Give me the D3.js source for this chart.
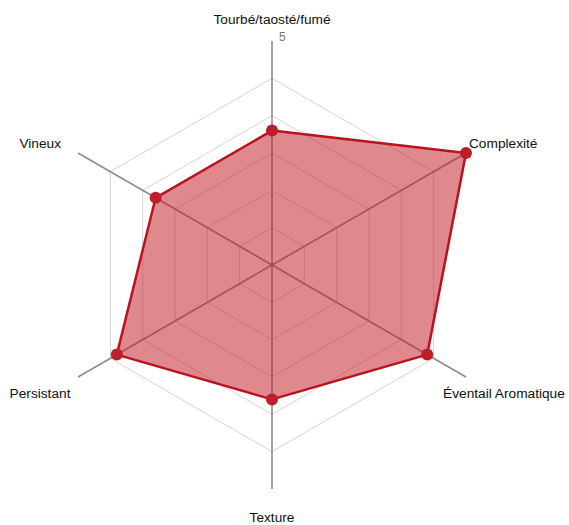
<!DOCTYPE html>
<html>
<head>
<meta charset="utf-8">
<script src="https://cdnjs.cloudflare.com/ajax/libs/d3/7.8.5/d3.min.js"></script>
<style>
  body { margin: 0; background: #fff; }
  text { font-family: "Liberation Sans", Arial, Helvetica, sans-serif; }
</style>
</head>
<body>
<svg width="569" height="525"></svg>
<script>
// flavour axes and scores
const axes = ['Tourbé/taosté/fumé', 'Complexité', 'Éventail Aromatique', 'Texture', 'Persistant', 'Vineux']
const scores = [3, 5, 4, 3, 4, 3]
const maxLabel = ['5']
const maxValue = 5
const levels = 5

const svg = d3.select('svg')
const cx = 272
const cy = 265
const radius = 224

const r = d3.scaleLinear()
  .domain([0, maxValue])
  .range([0, radius])

const angle = d3.scaleLinear()
  .domain([0, axes.length])
  .range([0, 2 * Math.PI])

const g = svg.append('g').attr('transform', 'translate(' + cx + ',' + cy + ')')

function px (i, rad) { return rad * Math.sin(angle(i)) }
function py (i, rad) { return -rad * Math.cos(angle(i)) }

// grid rings, drawn at 1/6 .. 5/6 of the axis length
for (let k = 1; k <= levels; k++) {
  const rad = radius * k / (levels + 1)
  const pts = axes.map((a, i) => [px(i, rad), py(i, rad)])
  g.append('path')
    .attr('d', d3.line()(pts) + 'Z')
    .attr('fill', 'none')
    .attr('stroke', '#d4d4d4')
    .attr('stroke-width', 1)
}

// axis lines
g.selectAll('.axis')
  .data(axes)
  .enter().append('line')
  .attr('class', 'axis')
  .attr('x1', 0)
  .attr('y1', 0)
  .attr('x2', (d, i) => px(i, r(maxValue)))
  .attr('y2', (d, i) => py(i, r(maxValue)))
  .attr('stroke', '#8c8c8c')
  .attr('stroke-width', 1.6)

// max label
g.append('text')
  .attr('x', 7)
  .attr('y', -r(maxValue))
  .attr('font-size', 12)
  .attr('fill', '#777')
  .text(maxLabel[0])

// axis labels, offsets per side
const labelPos = [
  { dx: 0, dy: -17, anchor: 'middle' },
  { dx: 3, dy: -5, anchor: 'start' },
  { dx: 38, dy: 21, anchor: 'middle' },
  { dx: 0, dy: 33, anchor: 'middle' },
  { dx: -38, dy: 21, anchor: 'middle' },
  { dx: -17, dy: -5, anchor: 'end' }
]

g.selectAll('.label')
  .data(axes)
  .enter().append('text')
  .attr('class', 'label')
  .attr('x', (d, i) => px(i, r(maxValue)) + labelPos[i].dx)
  .attr('y', (d, i) => py(i, r(maxValue)) + labelPos[i].dy)
  .attr('text-anchor', (d, i) => labelPos[i].anchor)
  .attr('font-size', 13.7)
  .attr('fill', '#111')
  .text(d => d)

// score polygon
const shape = scores.map((v, i) => [px(i, r(v)), py(i, r(v))])
g.append('path')
  .attr('d', d3.line()(shape) + 'Z')
  .attr('fill', '#c21a27')
  .attr('fill-opacity', 0.52)
  .attr('stroke', '#b8141e')
  .attr('stroke-width', 2.5)
  .attr('stroke-linejoin', 'round')

g.selectAll('.dot')
  .data(scores)
  .enter().append('circle')
  .attr('class', 'dot')
  .attr('cx', (d, i) => px(i, r(d)))
  .attr('cy', (d, i) => py(i, r(d)))
  .attr('r', 6)
  .attr('fill', '#bd1e2a')
</script>
</body>
</html>
